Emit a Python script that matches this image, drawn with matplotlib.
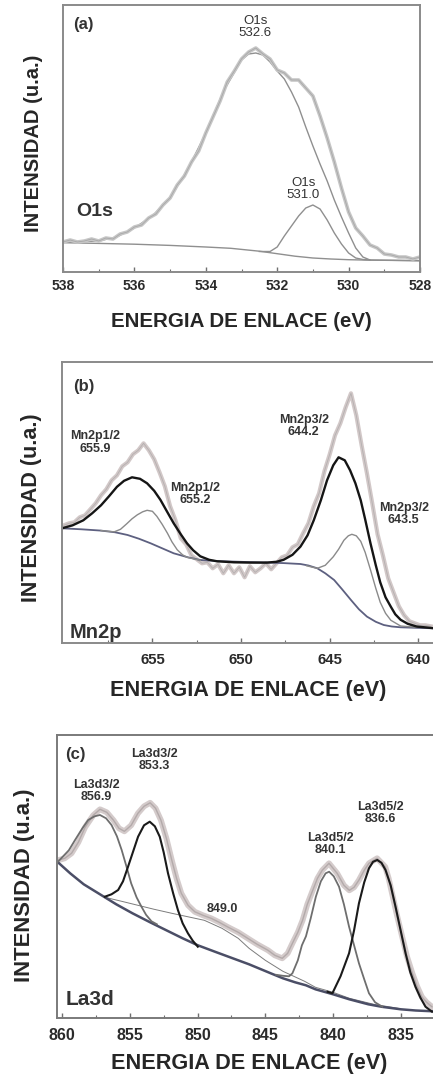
"""XPS spectra of the perovskite sample: O1s, Mn2p and La3d regions.

Three stacked panels, each with the measured spectrum, fitted
components and the background, read off the original figure.
Intensities are in arbitrary units (no y scale is shown).
"""

import matplotlib.pyplot as plt

plt.rcParams["font.family"] = ["Liberation Sans", "DejaVu Sans"]

FIG_W, FIG_H = 433, 1087
DPI = 100

# ---------------------------------------------------------------- (a) O1s
o1s_exp_e = [538.0, 537.8, 537.6, 537.4, 537.2, 537.0, 536.8, 536.6, 536.4, 536.2,
             536.0, 535.8, 535.6, 535.4, 535.2, 535.0, 534.8, 534.6, 534.4, 534.2,
             534.0, 533.8, 533.6, 533.4, 533.2, 533.0, 532.8, 532.6, 532.4, 532.2,
             532.0, 531.8, 531.6, 531.4, 531.2, 531.0, 530.8, 530.6, 530.4, 530.2,
             530.0, 529.8, 529.6, 529.4, 529.2, 529.0, 528.8, 528.6, 528.4, 528.2,
             528.0]
o1s_exp_i = [30, 32, 30, 31, 33, 31, 34, 33, 38, 40,
             45, 47, 54, 58, 67, 74, 87, 96, 110, 121,
             139, 155, 171, 190, 201, 213, 220, 224, 218, 213,
             202, 199, 192, 192, 184, 176, 156, 134, 110, 84,
             60, 44, 36, 27, 24, 18, 17, 15, 15, 13,
             15]

o1s_main_e = [538.0, 537.0, 536.5, 536.0, 535.5, 535.0, 534.5, 534.0, 533.5, 533.0,
              532.8, 532.6, 532.4, 532.2, 532.0, 531.8, 531.6, 531.4, 531.2, 531.0,
              530.8, 530.6, 530.4, 530.2, 530.0, 529.8, 529.6, 529.4, 529.0, 528.0]
o1s_main_i = [30, 31, 35, 44, 56, 74, 103, 139, 181, 212,
              218, 219, 217, 210, 201, 193, 180, 165, 145, 126,
              108, 91, 72, 55, 39, 24, 15, 12, 11.8, 11.3]

o1s_low_e = [532.5, 532.2, 532.0, 531.8, 531.6, 531.4, 531.2, 531.0, 530.8, 530.6,
             530.4, 530.2, 530.0, 529.8, 529.6, 529.4]
o1s_low_i = [20.5, 20.5, 25, 36, 46, 56, 64, 67, 63, 52,
             39, 28, 19, 14, 12.5, 12]

o1s_bg_e = [538.0, 537.0, 536.0, 535.0, 534.0, 533.3, 532.5, 532.0, 531.5, 531.0,
            530.5, 530.0, 529.5, 528.0]
o1s_bg_i = [29.3, 28.6, 27.8, 26.6, 25.0, 23.7, 20.8, 18.3, 15.8, 14.0,
            13.0, 12.3, 11.9, 11.3]

# ---------------------------------------------------------------- (b) Mn2p
mn_exp_e = [660.0, 659.7, 659.4, 659.1, 658.8, 658.5, 658.2, 657.9, 657.6, 657.3,
            657.0, 656.7, 656.4, 656.1, 655.8, 655.5, 655.2, 654.9, 654.6, 654.3,
            654.0, 653.7, 653.4, 653.1, 652.8, 652.5, 652.2, 651.9, 651.6, 651.3,
            651.0, 650.7, 650.4, 650.1, 649.8, 649.5, 649.2, 648.9, 648.6, 648.3,
            648.0, 647.7, 647.4, 647.1, 646.8, 646.5, 646.2, 645.9, 645.6, 645.3,
            645.0, 644.7, 644.4, 644.1, 643.8, 643.5, 643.2, 642.9, 642.6, 642.3,
            642.0, 641.7, 641.4, 641.1, 640.8, 640.5, 640.2, 639.9, 639.6, 639.3]
mn_exp_i = [118, 120, 121, 126, 128, 134, 140, 148, 154, 163,
            168, 177, 181, 189, 193, 200, 193, 184, 171, 157,
            137, 123, 105, 99, 88, 84, 80, 81, 75, 79,
            70, 78, 70, 76, 66, 77, 71, 75, 80, 74,
            80, 86, 88, 96, 99, 110, 120, 137, 150, 172,
            189, 208, 220, 236, 250, 228, 198, 170, 140, 109,
            88, 65, 51, 37, 28, 22, 20, 18, 18, 17]

mn_main_e = [660.1, 659.5, 658.9, 658.4, 657.9, 657.45, 657.0, 656.6, 656.15, 655.7,
             655.3, 654.9, 654.55, 654.2, 653.8, 653.4, 653.05, 652.7, 652.3, 651.8,
             651.35, 650.4, 649.5, 648.55, 648.0, 647.6, 647.1, 646.65, 646.25, 645.9,
             645.5, 645.15, 644.8, 644.5, 644.15, 643.85, 643.55, 643.25, 643.0, 642.7,
             642.4, 642.15, 641.85, 641.55, 641.3, 641.0, 640.6, 640.1, 639.1]
mn_main_i = [115, 118, 123, 130, 138, 147, 156.5, 162.5, 166, 164.5,
             160, 152.5, 143.5, 132.5, 120, 109, 100, 93, 87, 83.5,
             82, 81, 80.7, 80.7, 81.5, 83.5, 88.5, 96.7, 108, 123,
             143, 163, 178, 186, 183, 173, 160, 143, 124, 100,
             78, 61, 46, 36.5, 29, 23.5, 19.5, 16.8, 15]

mn_p12_e = [657.9, 657.5, 657.15, 656.8, 656.45, 656.15, 655.85, 655.55, 655.3, 655.0,
            654.75, 654.45, 654.15, 653.9, 653.6, 653.3, 653.05, 652.3]
mn_p12_i = [112.7, 112, 111.5, 114, 119.5, 124.5, 128.5, 131.5, 133, 132,
            127, 119, 110, 101.5, 93.5, 88.5, 86, 83]

mn_p32_e = [646.3, 645.7, 645.25, 644.8, 644.5, 644.2, 643.95, 643.75, 643.5, 643.25,
            643.0, 642.7, 642.4, 642.15, 641.85, 641.55, 641.0, 640.1]
mn_p32_i = [77.5, 75, 78, 86.5, 94, 103, 107.5, 109, 107.5, 102,
            91, 73.5, 55, 41, 30, 23, 17.3, 16]

mn_bg_e = [660.1, 659.0, 657.9, 657.1, 656.4, 655.75, 655.1, 654.45, 653.8, 653.0,
           652.3, 651.3, 650.4, 649.5, 648.5, 647.6, 646.65, 646.2, 645.7, 645.25,
           644.75, 644.3, 643.8, 643.35, 642.9, 642.4, 641.95, 641.5, 641.0, 640.0,
           639.1]
mn_bg_i = [115, 114, 112.7, 111, 108.3, 104.5, 100, 95, 90, 86,
           83.3, 82.2, 81.7, 81.2, 80.7, 80.2, 79.3, 77.8, 75, 70,
           63.3, 54, 43.3, 34, 26.7, 21.5, 18.3, 16.8, 16, 15.4,
           15]

# ---------------------------------------------------------------- (c) La3d
la_exp_e = [860.3, 859.8, 859.3, 858.8, 858.3, 857.7, 857.2, 856.7, 856.2, 855.8,
            855.4, 854.9, 854.4, 853.95, 853.5, 853.1, 852.7, 852.3, 851.9, 851.55,
            851.2, 850.7, 850.2, 849.6, 849.0, 848.4, 847.8, 847.0, 846.3, 845.6,
            844.8, 844.3, 843.75, 843.35, 843.0, 842.6, 842.25, 841.9, 841.5, 841.15,
            840.8, 840.3, 839.7, 839.2, 838.8, 838.45, 838.1, 837.7, 837.35, 836.75,
            836.15, 835.9, 835.65, 835.3, 834.9, 834.55, 834.15, 833.8, 833.45, 833.1,
            832.7]
la_exp_i = [158, 160, 165, 176, 191, 203, 209, 206, 198, 190,
            187, 193, 205, 212, 215.5, 210, 198, 180, 158, 140,
            125, 113, 106.5, 103, 100, 96, 91.5, 86, 80, 74,
            68, 63, 60, 65, 75, 86, 98, 114, 128, 140,
            148, 155, 145, 133, 128, 131, 138, 148, 155, 160,
            151.5, 140, 125, 104, 81.5, 62, 45, 32, 21.5, 16,
            11.5]

la_a_e = [860.3, 859.5, 859.04, 858.5, 858.07, 857.6, 857.2, 856.75, 856.35, 855.95,
          855.6, 855.25, 854.9, 854.5, 854.14, 853.8, 853.4, 853.0]
la_a_i = [156.6, 168, 178.3, 190, 198.3, 202, 203.3, 200, 193.3, 182,
          168.3, 152, 135, 121, 111.6, 103.5, 97, 94]

la_b_e = [856.84, 856.35, 855.86, 855.5, 855.13, 854.75, 854.39, 853.95, 853.53, 853.15,
          852.79, 852.5, 852.18, 851.8, 851.45, 851.1, 850.71, 850.35, 849.98]
la_b_i = [121.6, 124, 128.3, 137, 151.6, 167, 181.6, 193, 196.6, 192,
          181.6, 166, 145, 125, 108.3, 95, 85, 77.5, 71.6]

la_sat_e = [856.84, 855.6, 854.4, 853.2, 851.9, 850.7, 849.5, 848.2, 847.0, 846.2,
            845.0, 843.7, 842.1, 841.3, 840.0, 838.8, 837.0, 835.2]
la_sat_i = [121, 117, 113, 109, 105, 101.5, 98, 90, 80, 70,
            58, 47, 37, 31, 26, 20, 14, 10]

la_c_e = [844.2, 843.7, 843.25, 843.0, 842.6, 842.3, 842.0, 841.65, 841.27, 840.9,
          840.55, 840.29, 839.95, 839.56, 839.2, 838.82, 838.45, 838.09, 837.7, 837.35,
          836.9, 836.37]
la_c_i = [43.5, 42.5, 42, 45, 58, 73, 82, 100, 121.6, 137,
          145, 146.6, 142, 131.6, 114, 91.6, 73, 55, 39, 25,
          16, 11.6]

la_d_e = [840.4, 840.05, 839.45, 838.82, 838.45, 838.09, 837.7, 837.35, 837.05, 836.74,
          836.43, 836.13, 835.75, 835.39, 835.0, 834.65, 834.3, 833.92, 833.55, 833.18,
          832.7]
la_d_i = [26.5, 25, 42, 65, 88, 115, 136, 150, 156.5, 158.3,
          155.5, 148.3, 133, 111.6, 87, 65, 46, 31.6, 20.5, 11.6,
          6.6]

la_bg_e = [860.35, 859.4, 858.4, 857.2, 856.0, 854.8, 853.5, 852.3, 851.1, 849.98,
           848.6, 847.0, 846.2, 845.4, 844.6, 843.7, 842.8, 842.0, 841.3, 840.0,
           838.8, 837.4, 836.4, 835.0, 833.9, 832.6]
la_bg_i = [156.6, 145, 134, 124, 114, 105, 96, 88, 80, 73,
           66, 58, 54, 49.5, 45, 40, 36, 33, 29, 24,
           19, 14, 11.5, 9, 7.8, 7]


def px_rect(left, top, right, bottom):
    """Axes rectangle in figure fractions from pixel edges."""
    return [left / FIG_W, 1 - bottom / FIG_H,
            (right - left) / FIG_W, (bottom - top) / FIG_H]


def style_panel(ax, xlim, ylim, majors, minors, tick_size, pad,
                xlab_size, xlab_pos, ylab_size, ylab_pos, spine_color):
    """Shared frame, ticks and axis labels for one spectrum panel."""
    ax.set_xlim(*xlim)
    ax.set_ylim(*ylim)
    ax.set_yticks([])
    ax.set_xticks(majors, [f"{m:g}" for m in majors],
                  fontsize=tick_size, fontweight="bold", color="#2b2b2b")
    ax.set_xticks(minors, minor=True)
    ax.tick_params(axis="x", which="major", direction="in", length=3.5,
                   width=1.0, color="#6f6f6f", pad=pad)
    ax.tick_params(axis="x", which="minor", direction="in", length=2,
                   width=0.8, color="#6f6f6f")
    for side in ax.spines.values():
        side.set_color(spine_color)
        side.set_linewidth(1.4)

    ax.set_xlabel("ENERGIA DE ENLACE (eV)", fontsize=xlab_size,
                  fontweight="bold", color="#262626")
    ax.xaxis.set_label_coords(*xlab_pos)
    ax.set_ylabel("INTENSIDAD (u.a.)", fontsize=ylab_size,
                  fontweight="bold", color="#262626", va="center")
    ax.yaxis.set_label_coords(*ylab_pos)


def peak_label(ax, x, y, text, size=9.0, weight="normal"):
    ax.text(x, y, text, ha="center", va="center", fontsize=size,
            fontweight=weight, color="#333333", linespacing=1.0)


fig = plt.figure(figsize=(FIG_W / DPI, FIG_H / DPI), dpi=DPI)

# ---- (a) O1s
ax_a = fig.add_axes(px_rect(63, 5, 420, 272))
ax_a.plot(o1s_bg_e, o1s_bg_i, color="#8f8f8f", lw=1.0)
ax_a.plot(o1s_main_e, o1s_main_i, color="#8f8f8f", lw=1.0)
ax_a.plot(o1s_low_e, o1s_low_i, color="#8f8f8f", lw=1.0)
ax_a.plot(o1s_exp_e, o1s_exp_i, color="#c6c6c6", lw=2.6, solid_joinstyle="round")
ax_a.plot(o1s_exp_e, o1s_exp_i, color="#a8a8a8", lw=0.6)
style_panel(ax_a, (538, 528), (0, 267), [538, 536, 534, 532, 530, 528],
            [537, 535, 533, 531, 529], 10, 5,
            14.8, (0.4986, -0.15), 14.5, (-0.084, 0.483), "#8a8a8a")
peak_label(ax_a, 537.44, 247, "(a)", size=12, weight="bold")
peak_label(ax_a, 532.62, 244.5, "O1s\n532.6", size=9.5)
peak_label(ax_a, 531.27, 82.5, "O1s\n531.0", size=9.5)
peak_label(ax_a, 537.10, 61, "O1s", size=14, weight="bold")

# ---- (b) Mn2p
ax_b = fig.add_axes(px_rect(62, 361.7, 434.3, 643.3))
ax_b.plot(mn_exp_e, mn_exp_i, color="#d2c8c8", lw=3.0, solid_joinstyle="round")
ax_b.plot(mn_exp_e, mn_exp_i, color="#b4b0b0", lw=0.6)
ax_b.plot(mn_bg_e, mn_bg_i, color="#5d6080", lw=1.3)
ax_b.plot(mn_p12_e, mn_p12_i, color="#8a8a8a", lw=1.0)
ax_b.plot(mn_p32_e, mn_p32_i, color="#8a8a8a", lw=1.0)
ax_b.plot(mn_main_e, mn_main_i, color="#151515", lw=1.7)
style_panel(ax_b, (660.1, 639.1), (0, 281.6), [655, 650, 645, 640],
            [657.5, 652.5, 647.5, 642.5], 10.8, 7,
            15.6, (0.5005, -0.130), 15.5, (-0.0814, 0.483), "#8a8a8a")
peak_label(ax_b, 658.89, 256.6, "(b)", size=12, weight="bold")
peak_label(ax_b, 658.21, 200.8, "Mn2p1/2\n655.9", size=9, weight="bold")
peak_label(ax_b, 652.57, 149.6, "Mn2p1/2\n655.2", size=9, weight="bold")
peak_label(ax_b, 646.47, 217.3, "Mn2p3/2\n644.2", size=9, weight="bold")
peak_label(ax_b, 640.83, 129.6, "Mn2p3/2\n643.5", size=9, weight="bold")
peak_label(ax_b, 658.21, 10.5, "Mn2p", size=14.5, weight="bold")

# ---- (c) La3d
ax_c = fig.add_axes(px_rect(57.3, 735, 434.7, 1018.3))
ax_c.plot(la_exp_e, la_exp_i, color="#d4cbcb", lw=4.2, solid_joinstyle="round")
ax_c.plot(la_exp_e, la_exp_i, color="#b3aaaa", lw=1.0)
ax_c.plot(la_sat_e, la_sat_i, color="#7c7c7c", lw=0.7)
ax_c.plot(la_bg_e, la_bg_i, color="#4b4e66", lw=1.8)
ax_c.plot(la_a_e, la_a_i, color="#6e6e6e", lw=1.3)
ax_c.plot(la_c_e, la_c_i, color="#6e6e6e", lw=1.3)
ax_c.plot(la_b_e, la_b_i, color="#1a1a1a", lw=1.5)
ax_c.plot(la_d_e, la_d_i, color="#1a1a1a", lw=1.5)
style_panel(ax_c, (860.35, 832.6), (0, 283.3), [860, 855, 850, 845, 840, 835],
            [857.5, 852.5, 847.5, 842.5, 837.5, 832.5], 11.5, 7,
            15.6, (0.5085, -0.1225), 15.8, (-0.0856, 0.4705), "#7a7a7a")
peak_label(ax_c, 859.04, 263.3, "(c)", size=12, weight="bold")
peak_label(ax_c, 857.45, 227.5, "La3d3/2\n856.9", size=9, weight="bold")
peak_label(ax_c, 853.16, 258.3, "La3d3/2\n853.3", size=9, weight="bold")
peak_label(ax_c, 848.14, 109, "849.0", size=9, weight="bold")
peak_label(ax_c, 840.17, 174.6, "La3d5/2\n840.1", size=9, weight="bold")
peak_label(ax_c, 836.49, 205.3, "La3d5/2\n836.6", size=9, weight="bold")
peak_label(ax_c, 857.94, 19, "La3d", size=15, weight="bold")

fig.savefig("out.png", dpi=DPI)
